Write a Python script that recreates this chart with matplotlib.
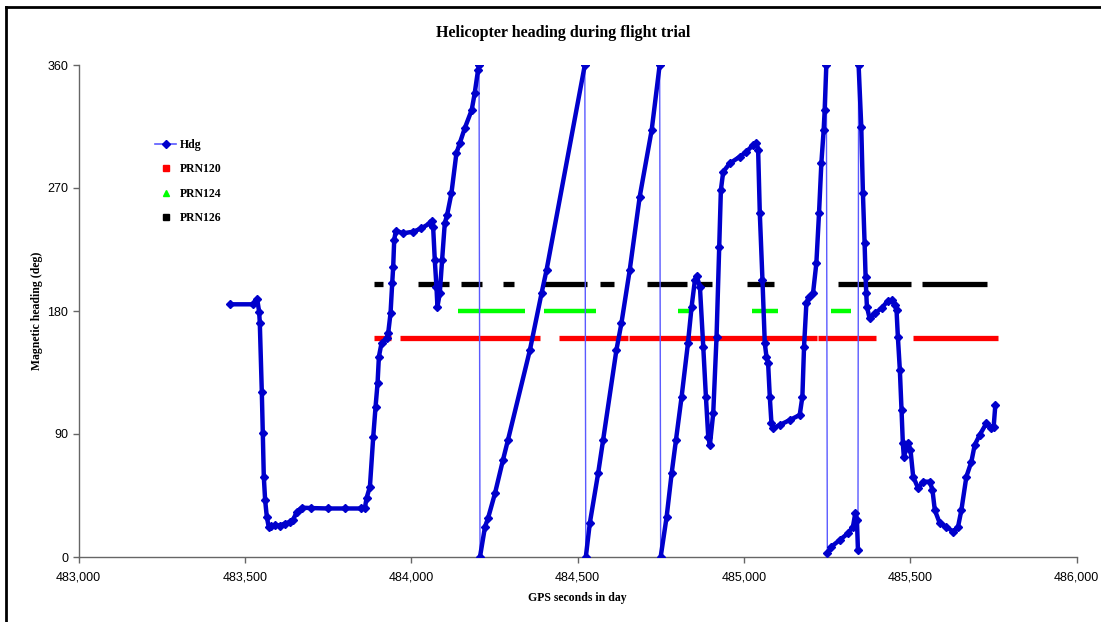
import numpy as np
import matplotlib
matplotlib.use("Agg")
import matplotlib.pyplot as plt
from matplotlib.lines import Line2D
from matplotlib.ticker import FuncFormatter

# heading samples (GPS seconds, degrees)
gps_t = [
    483455, 483524, 483537, 483543, 483545, 483551, 483554, 483557, 483561, 483566,
    483572, 483580, 483590, 483605, 483620, 483636, 483645, 483656, 483671, 483700,
    483750, 483800, 483850, 483861, 483866, 483876, 483886, 483893, 483899, 483903,
    483911, 483926, 483931, 483938, 483943, 483946, 483949, 483954, 483976, 484006,
    484031, 484056, 484064, 484066, 484071, 484076, 484079, 484086, 484093, 484101,
    484108, 484121, 484136, 484146, 484161, 484182, 484191, 484201, 484204,
    484207, 484222, 484231, 484252, 484276, 484291, 484357, 484392, 484407, 484522,
    484525, 484537, 484562, 484577, 484617, 484632, 484657, 484687, 484723, 484747,
    484750, 484768, 484783, 484796, 484813, 484832, 484843, 484853, 484858, 484868,
    484878, 484886, 484893, 484898, 484908, 484918, 484926, 484931, 484938, 484958,
    484988, 485008, 485028, 485038, 485043, 485048, 485056, 485063, 485068, 485073,
    485078, 485083, 485088, 485108, 485138, 485168, 485176, 485181, 485188, 485196,
    485208, 485218, 485226, 485233, 485240, 485243, 485248,
    485251, 485263, 485288, 485313, 485328, 485335, 485340, 485343,
    485345, 485353, 485358, 485363, 485366, 485368, 485370, 485378, 485393, 485414,
    485433, 485444, 485454, 485459, 485463, 485469, 485474, 485478, 485481, 485494,
    485501, 485509, 485524, 485539, 485559, 485567, 485574, 485589, 485609, 485629,
    485644, 485654, 485669, 485684, 485694, 485709, 485729, 485744, 485751, 485756,
]
heading = [
    184.9, 184.9, 188.8, 179.5, 171.2, 121.0, 90.7, 58.8, 41.7, 29.5,
    21.7, 22.5, 23.5, 23.0, 24.5, 25.6, 27.0, 33.1, 36.1, 35.8,
    35.5, 35.5, 35.5, 36.0, 43.2, 51.4, 88.0, 110.0, 127.3, 146.6,
    156.6, 160.2, 163.9, 178.5, 200.3, 212.4, 232.0, 238.8, 236.9, 238.0,
    240.5, 244.2, 246.1, 241.7, 217.3, 197.8, 183.1, 193.0, 217.3, 244.2,
    250.2, 266.1, 295.4, 302.7, 313.7, 327.1, 339.3, 356.3, 360.0,
    0.2, 22.2, 28.3, 46.6, 71.0, 85.6, 151.5, 193.0, 210.0, 360.0,
    0.0, 24.7, 61.2, 85.6, 151.5, 171.0, 210.0, 263.6, 312.4, 360.0,
    0.0, 29.5, 61.2, 85.6, 117.3, 156.4, 183.1, 202.7, 205.8, 197.8,
    153.9, 117.3, 88.0, 82.0, 105.1, 161.2, 227.0, 268.5, 281.9, 288.1,
    292.9, 296.6, 301.5, 303.1, 297.8, 251.5, 202.7, 156.4, 146.6, 141.7,
    117.3, 97.8, 94.2, 96.6, 100.2, 103.9, 117.3, 153.9, 185.6, 190.5,
    193.0, 214.9, 251.5, 288.1, 312.4, 327.0, 360.0,
    2.7, 7.5, 12.4, 17.3, 22.2, 32.0, 27.1, 5.1,
    360.0, 314.9, 266.1, 229.5, 205.1, 193.0, 183.1, 174.7, 178.3, 182.0,
    187.5, 188.0, 184.4, 180.7, 161.2, 136.8, 107.6, 83.2, 73.4, 83.2,
    78.3, 58.8, 50.3, 55.1, 55.1, 49.0, 34.4, 24.7, 22.2, 18.5,
    22.2, 34.4, 58.8, 69.7, 82.0, 89.3, 97.8, 94.2, 95.3, 111.2,
]

# satellite lock periods (start, end) in GPS seconds
prn120_level = 160
prn120_spans = [(483888, 483939), (483966, 484387), (484444, 484651), (484654, 485219),
                (485222, 485397), (485508, 485763)]
prn124_level = 180
prn124_spans = [(484140, 484342), (484399, 484555), (484802, 484838), (485024, 485102),
                (485261, 485321)]
prn126_level = 200
prn126_spans = [(483888, 483915), (484020, 484113), (484149, 484212), (484276, 484309),
                (484393, 484528), (484567, 484609), (484708, 484829), (484859, 484904),
                (485009, 485090), (485282, 485502), (485535, 485730)]

serif = "Liberation Serif"
sans = "Liberation Sans"

fig = plt.figure(figsize=(11.01, 6.22), dpi=100)
ax = fig.add_axes([78.5 / 1101, 1 - 557 / 622, 998 / 1101, 492 / 622])

t = np.array(gps_t, dtype=float)
h = np.array(heading, dtype=float)

# thin connecting line incl. the wrap-around jumps
ax.plot(t, h, color="#5a5aff", lw=1.0, zorder=3)
# heavy trace of the dense samples, broken at the 360/0 wraps
cuts = np.where(np.abs(np.diff(h)) > 180)[0] + 1
for tt, hh in zip(np.split(t, cuts), np.split(h, cuts)):
    ax.plot(tt, hh, color="#0000cc", lw=3.2, solid_capstyle="round",
            solid_joinstyle="round", zorder=4)
ax.plot(t, h, ls="none", marker="D", ms=3.8, color="#0000cc", zorder=5)

for spans, lvl, col, lw in [(prn120_spans, prn120_level, "#ff0000", 3.8),
                             (prn124_spans, prn124_level, "#00ff00", 3.2),
                             (prn126_spans, prn126_level, "#000000", 3.8)]:
    for a, b in spans:
        ax.plot([a, b], [lvl, lvl], color=col, lw=lw, solid_capstyle="butt", zorder=2)

ax.set_xlim(483000, 486000)
ax.set_ylim(0, 360)
ax.set_xticks(np.arange(483000, 486001, 500))
ax.set_yticks(np.arange(0, 361, 90))
ax.xaxis.set_major_formatter(FuncFormatter(lambda v, p: f"{int(v):,}"))
for s in ["top", "right"]:
    ax.spines[s].set_visible(False)
for s in ["left", "bottom"]:
    ax.spines[s].set_color("#666666")
    ax.spines[s].set_linewidth(1.0)
ax.tick_params(axis="both", direction="out", length=4.5, width=1, color="#666666",
               labelsize=9)
ax.tick_params(axis="x", pad=6)
ax.tick_params(axis="y", pad=3)
for lab in ax.get_xticklabels() + ax.get_yticklabels():
    lab.set_fontfamily(sans)
ax.patch.set_alpha(0)

ax.set_xlabel("GPS seconds in day", fontfamily=serif, fontweight="bold", fontsize=8.5, labelpad=6)
ax.set_ylabel("Magnetic heading (deg)", fontfamily=serif, fontweight="bold", fontsize=8.5, labelpad=3)
fig.text(563 / 1101, 1 - 33 / 622, "Helicopter heading during flight trial", fontfamily=serif,
         fontweight="bold", fontsize=11.5, ha="center", va="center")

handles = [
    Line2D([], [], color="#5a5aff", lw=1.2, marker="D", ms=3.6, mfc="#0000cc", mec="#0000cc"),
    Line2D([], [], ls="none", marker="s", ms=4, color="#ff0000"),
    Line2D([], [], ls="none", marker="^", ms=4, color="#00ff00"),
    Line2D([], [], ls="none", marker="s", ms=4, color="#000000"),
]
fig.legend(handles, ["Hdg", "PRN120", "PRN124", "PRN126"], loc="upper left",
           bbox_to_anchor=(155 / 1101, 1 - 139 / 622), frameon=False, borderpad=0,
           borderaxespad=0, handlelength=1.8, handletextpad=0.3, labelspacing=1.05,
           prop={"family": serif, "weight": "bold", "size": 8.5})

# outer frame (left and top edges visible in the source)
fig.add_artist(Line2D([6 / 1101, 6 / 1101], [0, 1 - 7 / 622], color="black", lw=2,
                      transform=fig.transFigure))
fig.add_artist(Line2D([6 / 1101, 1], [1 - 7 / 622, 1 - 7 / 622], color="black", lw=2,
                      transform=fig.transFigure))

fig.savefig("out.png", dpi=100)
